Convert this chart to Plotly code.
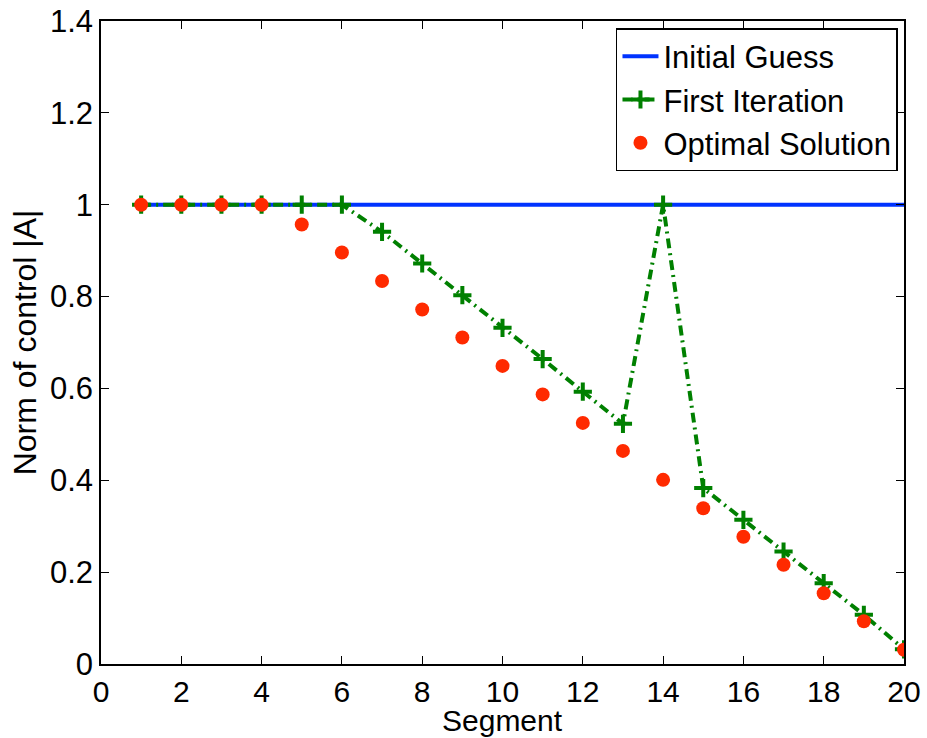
import plotly.graph_objects as go

segments = list(range(1, 21))
initial_guess = [1.0] * 20
first_iteration = [1.0, 1.0, 1.0, 1.0, 1.0, 1.0, 0.941, 0.872, 0.803, 0.732,
                   0.664, 0.593, 0.523, 1.0, 0.383, 0.314, 0.245, 0.176, 0.107, 0.032]
optimal_solution = [1.0, 1.0, 1.0, 1.0, 0.957, 0.896, 0.834, 0.772, 0.711, 0.649,
                    0.587, 0.525, 0.464, 0.401, 0.339, 0.277, 0.216, 0.154, 0.093, 0.031]

x_ticks = list(range(0, 21, 2))
y_ticks = [0, 0.2, 0.4, 0.6, 0.8, 1, 1.2, 1.4]
y_tick_text = ["0", "0.2", "0.4", "0.6", "0.8", "1", "1.2", "1.4"]

FONT = "Liberation Sans, Arial, Helvetica, sans-serif"

fig = go.Figure()
fig.add_trace(go.Scatter(
    x=segments, y=initial_guess, mode="lines", name="Initial Guess",
    line=dict(color="#0033ff", width=4)))
fig.add_trace(go.Scatter(
    x=segments, y=first_iteration, mode="lines+markers", name="First Iteration",
    line=dict(color="#008000", width=4, dash="10px,5px,2px,5px"),
    marker=dict(symbol="cross-thin", size=13, line=dict(color="#008000", width=4))))
fig.add_trace(go.Scatter(
    x=segments, y=optimal_solution, mode="markers", name="Optimal Solution",
    marker=dict(symbol="circle", size=14, color="#ff2a00", line=dict(width=0))))

axis_common = dict(
    showgrid=False, zeroline=False, showline=True, mirror="allticks",
    linecolor="black", linewidth=1.5, ticks="inside", ticklen=8,
    tickcolor="black", tickwidth=1, automargin=False,
)

fig.update_layout(
    width=927, height=738,
    margin=dict(l=101, r=23, t=21, b=74),
    paper_bgcolor="white", plot_bgcolor="white",
    font=dict(family=FONT, color="black"),
    showlegend=True,
    legend=dict(
        x=0.9925, y=0.989, xanchor="right", yanchor="top",
        bgcolor="white", bordercolor="black", borderwidth=1.5,
        font=dict(family=FONT, size=31, color="black"),
        tracegroupgap=0, itemwidth=36,
    ),
    xaxis=dict(range=[0, 20], tickvals=x_ticks,
               tickfont=dict(family=FONT, size=30, color="black"), **axis_common),
    yaxis=dict(range=[0, 1.4], tickvals=y_ticks, ticktext=y_tick_text,
               tickfont=dict(family=FONT, size=31, color="black"),
               title=dict(text="Norm of control |A|", font=dict(family=FONT, size=32), standoff=4),
               **axis_common),
    annotations=[dict(
        text="Segment", xref="paper", yref="paper", x=0.5, y=0,
        xanchor="center", yanchor="middle", yshift=-56, showarrow=False,
        borderpad=0, font=dict(family=FONT, size=30, color="black"))],
)

fig.write_html("out.html")
